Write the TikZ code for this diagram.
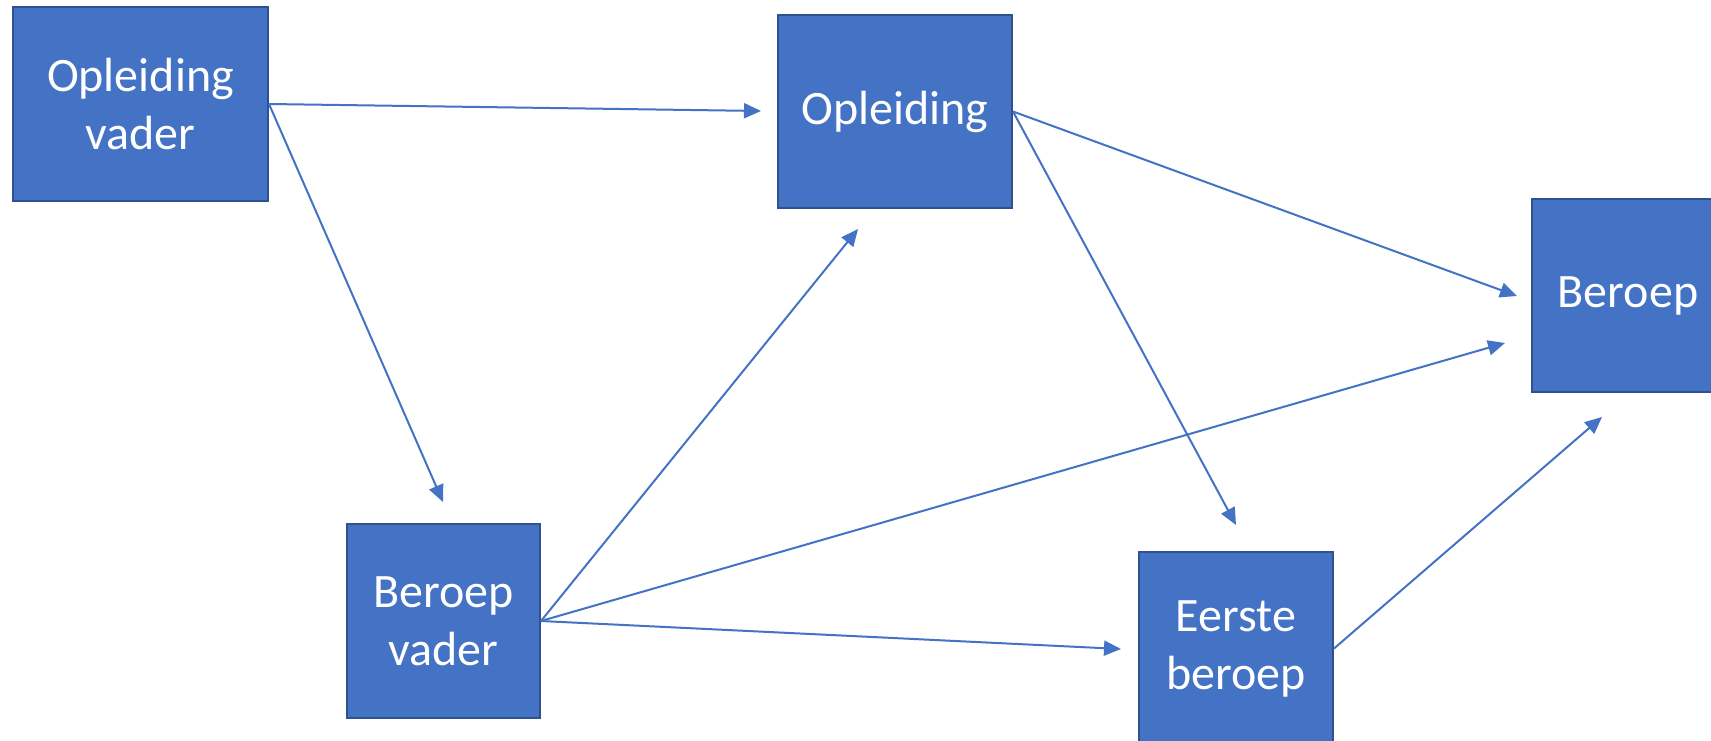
\documentclass[tikz,border=0pt]{standalone}
\usepackage{fontspec}
\setmainfont{Carlito}
\usetikzlibrary{arrows.meta}
\definecolor{boxfill}{HTML}{4472C4}
\definecolor{boxline}{HTML}{2F528F}
\definecolor{arrowcol}{HTML}{4472C4}
\begin{document}
\begin{tikzpicture}[x=1pt,y=-1pt,
  box/.style={draw=boxline, line width=2pt, fill=boxfill, text=white,
    inner sep=0pt, align=center, font=\fontsize{48}{58}\selectfont},
  link/.style={draw=arrowcol, line width=2pt, -{Triangle[length=17pt,width=15pt]}}]
  % page area
  \fill[white] (0,0) rectangle (1711,741);
  \useasboundingbox (0,0) rectangle (1711,741);

  % boxes
  \node[box, minimum width=255pt, minimum height=194pt] (ov) at (140.5,104) {Opleiding\\vader};
  \node[box, minimum width=234pt, minimum height=193pt] (opl) at (895,111.5) {Opleiding};
  \node[box, minimum width=192pt, minimum height=193pt] (ber) at (1628,295.5) {Beroep};
  \node[box, minimum width=193pt, minimum height=194pt] (bv) at (443.5,621) {Beroep\\vader};
  \node[box, minimum width=194pt, minimum height=194pt] (eb) at (1236,648.5) {Eerste\\beroep};

  % arrow tips
  \coordinate (t1) at (761,111);
  \coordinate (t2) at (443,502);
  \coordinate (t3) at (858,229);
  \coordinate (t4) at (1505,343);
  \coordinate (t5) at (1121,649);
  \coordinate (t6) at (1517,296);
  \coordinate (t7) at (1236,525);
  \coordinate (t8) at (1602,417);

  % connectors
  \draw[link] (ov.east) -- (t1);
  \draw[link] (ov.east) -- (t2);
  \draw[link] (bv.east) -- (t3);
  \draw[link] (bv.east) -- (t4);
  \draw[link] (bv.east) -- (t5);
  \draw[link] (opl.east) -- (t6);
  \draw[link] (opl.east) -- (t7);
  \draw[link] (eb.east) -- (t8);
\end{tikzpicture}
\end{document}
